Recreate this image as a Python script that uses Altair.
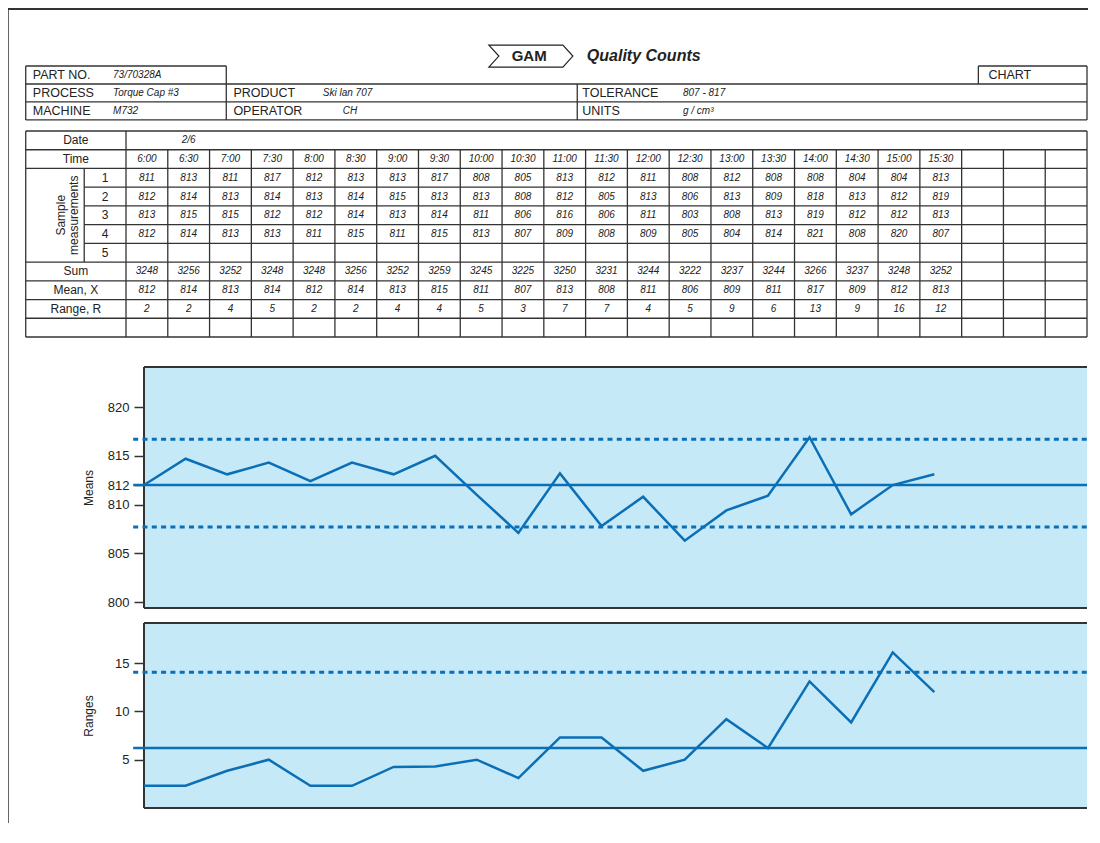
import altair as alt
import pandas as pd

# ---------------- data ----------------
times = ["6:00", "6:30", "7:00", "7:30", "8:00", "8:30", "9:00", "9:30", "10:00", "10:30",
         "11:00", "11:30", "12:00", "12:30", "13:00", "13:30", "14:00", "14:30", "15:00", "15:30"]
date_label = "2/6"
sample_1 = [811, 813, 811, 817, 812, 813, 813, 817, 808, 805, 813, 812, 811, 808, 812, 808, 808, 804, 804, 813]
sample_2 = [812, 814, 813, 814, 813, 814, 815, 813, 813, 808, 812, 805, 813, 806, 813, 809, 818, 813, 812, 819]
sample_3 = [813, 815, 815, 812, 812, 814, 813, 814, 811, 806, 816, 806, 811, 803, 808, 813, 819, 812, 812, 813]
sample_4 = [812, 814, 813, 813, 811, 815, 811, 815, 813, 807, 809, 808, 809, 805, 804, 814, 821, 808, 820, 807]
sums = [3248, 3256, 3252, 3248, 3248, 3256, 3252, 3259, 3245, 3225,
        3250, 3231, 3244, 3222, 3237, 3244, 3266, 3237, 3248, 3252]
mean_entries = [812, 814, 813, 814, 812, 814, 813, 815, 811, 807, 813, 808, 811, 806, 809, 811, 817, 809, 812, 813]
range_entries = [2, 2, 4, 5, 2, 2, 4, 4, 5, 3, 7, 7, 4, 5, 9, 6, 13, 9, 16, 12]

# values as plotted on the two control charts
means_plotted = [812, 814.7, 813.1, 814.3, 812.4, 814.3, 813.1, 815, 811, 807.1,
                 813.2, 807.8, 810.8, 806.3, 809.4, 810.9, 816.9, 809.0, 812, 813.1]
ranges_plotted = [2.3, 2.3, 3.85, 5.0, 2.3, 2.3, 4.25, 4.3, 5.0, 3.1,
                  7.3, 7.3, 3.85, 5.0, 9.2, 6.2, 13.1, 8.85, 16.1, 12.0]
mean_center, mean_ucl, mean_lcl = 812, 816.7, 807.7
range_center, range_ucl = 6.2, 14.05
mean_ticks = [800, 805, 810, 812, 815, 820]
range_ticks = [5, 10, 15]

header_left = [("PART NO.", "73/70328A"), ("PROCESS", "Torque Cap #3"), ("MACHINE", "M732")]
header_mid = [("PRODUCT", "Ski lan 707"), ("OPERATOR", "CH")]
header_right = [("TOLERANCE", "807 - 817"), ("UNITS", "g / cm³")]
row_labels = ["Date", "Time", "Sum", "Mean, X", "Range, R"]
sample_numbers = ["1", "2", "3", "4", "5"]

# ---------------- styles ----------------
INK = "#333333"
BLUE = "#0b6fb6"
FILL = "#c6e9f8"
SANS = "Liberation Sans"

# ---------------- scales ----------------
N_COLS, N_ROWS = 23, 11
LABEL_W, SUB_W = 2.4, 1.0
FX = alt.Scale(domain=[0, N_COLS], range=[118, 1079], zero=False, nice=False)
FY = alt.Scale(domain=[0, N_ROWS], range=[123, 329], zero=False, nice=False)
X_MAX = 22.67
MX = alt.Scale(domain=[0, X_MAX], range=[136, 1079], zero=False, nice=False)
MY = alt.Scale(domain=[799.4, 824.1], range=[600, 359], zero=False, nice=False)
RY = alt.Scale(domain=[0, 19.15], range=[800, 615], zero=False, nice=False)
LINE_START = -0.26


def hrules(rows, sx, sy, **mk):
    df = pd.DataFrame(rows, columns=["x", "x2", "y"])
    return alt.Chart(df).mark_rule(**mk).encode(
        x=alt.X("x:Q", scale=sx, axis=None), x2="x2:Q",
        y=alt.Y("y:Q", scale=sy, axis=None))


def vrules(rows, sx, sy, **mk):
    df = pd.DataFrame(rows, columns=["x", "y", "y2"])
    return alt.Chart(df).mark_rule(**mk).encode(
        x=alt.X("x:Q", scale=sx, axis=None),
        y=alt.Y("y:Q", scale=sy, axis=None), y2="y2:Q")


def texts(rows, sx, sy, **mk):
    df = pd.DataFrame(rows, columns=["x", "y", "t"])
    return alt.Chart(df).mark_text(**mk).encode(
        x=alt.X("x:Q", scale=sx, axis=None),
        y=alt.Y("y:Q", scale=sy, axis=None), text="t:N")


layers = []
L = -LABEL_W

# page frame
layers.append(hrules([(-2.83, 23.05, -6.51)], FX, FY, color=INK, strokeWidth=2))
layers.append(vrules([(-2.83, -6.51, 37)], FX, FY, color=INK, strokeWidth=2))

# ---------------- header ----------------
HY = [-3.47, -2.51, -1.55, -0.59]
HX = [L, 2.4, 10.8, 20.4, N_COLS]
h = [(HX[0], HX[1], HY[0]), (HX[3], HX[4], HY[0])]
h += [(HX[0], HX[4], y) for y in HY[1:]]
layers.append(hrules(h, FX, FY, color=INK, strokeWidth=1.3))
v = [(HX[0], HY[0], HY[3]), (HX[1], HY[0], HY[3]), (HX[2], HY[1], HY[3]),
     (HX[3], HY[0], HY[1]), (HX[4], HY[0], HY[3])]
layers.append(vrules(v, FX, FY, color=INK, strokeWidth=1.3))

hmid = [(HY[i] + HY[i + 1]) / 2 for i in range(3)]
lab = [(HX[0] + 0.17, hmid[i], k) for i, (k, _) in enumerate(header_left)]
lab += [(HX[1] + 0.17, hmid[i + 1], k) for i, (k, _) in enumerate(header_mid)]
lab += [(HX[2] + 0.12, hmid[i + 1], k) for i, (k, _) in enumerate(header_right)]
lab += [(HX[3] + 0.24, hmid[0], "CHART")]
layers.append(texts(lab, FX, FY, align="left", baseline="middle", font=SANS, fontSize=12.5, color="#222"))
val = [(-0.31, hmid[i], vv) for i, (_, vv) in enumerate(header_left)]
val += [(4.71, hmid[1], header_mid[0][1]), (5.19, hmid[2], header_mid[1][1])]
val += [(13.33, hmid[i + 1], vv) for i, (_, vv) in enumerate(header_right)]
layers.append(texts(val, FX, FY, align="left", baseline="middle", font=SANS, fontSize=10,
                    fontStyle="italic", color="#222"))

# title with arrow banner
ARROW = "M -1 -0.262 L 0.762 -0.262 L 1 0 L 0.762 0.262 L -1 0.262 L -0.762 0 Z"
layers.append(alt.Chart(pd.DataFrame({"x": [9.69], "y": [-4.0]})).mark_point(
    shape=ARROW, size=7056, filled=False, stroke="#222", strokeWidth=1.2, opacity=1).encode(
    x=alt.X("x:Q", scale=FX, axis=None), y=alt.Y("y:Q", scale=FY, axis=None)))
layers.append(texts([(9.65, -4.0, "GAM")], FX, FY, align="center", baseline="middle",
                    font=SANS, fontSize=15, fontWeight="bold", color="#222"))
layers.append(texts([(11.03, -4.0, "Quality Counts")], FX, FY, align="left", baseline="middle",
                    font=SANS, fontSize=16, fontWeight="bold", fontStyle="italic", color="#222"))

# ---------------- data table ----------------
h = [(L, N_COLS, r) for r in [0, 1, 2, 7, 8, 9, 10, 11]]
h += [(-SUB_W, N_COLS, r) for r in [3, 4, 5, 6]]
layers.append(hrules(h, FX, FY, color=INK, strokeWidth=1.3))
v = [(L, 0, N_ROWS), (0, 0, N_ROWS), (N_COLS, 0, N_ROWS), (-SUB_W, 2, 7)]
v += [(c, 1, N_ROWS) for c in range(1, N_COLS)]
layers.append(vrules(v, FX, FY, color=INK, strokeWidth=1.3))

label_rows = [0, 1, 7, 8, 9]
lab = [(L / 2, r + 0.5, t) for r, t in zip(label_rows, row_labels)]
lab += [(-SUB_W / 2, 2.5 + k, t) for k, t in enumerate(sample_numbers)]
layers.append(texts(lab, FX, FY, align="center", baseline="middle", font=SANS, fontSize=12, color="#222"))
layers.append(texts([(-1.55, 4.5, "Sample\nmeasurements")], FX, FY, align="center", baseline="middle",
                    angle=270, lineBreak="\n", lineHeight=13, font=SANS, fontSize=12, color="#222"))

entries = [(1.5, 0.5, date_label)]
entries += [(i + 0.5, 1.5, t) for i, t in enumerate(times)]
for k, arr in enumerate([sample_1, sample_2, sample_3, sample_4]):
    entries += [(i + 0.5, 2.5 + k, str(vv)) for i, vv in enumerate(arr)]
for r, arr in [(7, sums), (8, mean_entries), (9, range_entries)]:
    entries += [(i + 0.5, r + 0.5, str(vv)) for i, vv in enumerate(arr)]
layers.append(texts(entries, FX, FY, align="center", baseline="middle", font=SANS, fontSize=10,
                    fontStyle="italic", color="#222"))


# ---------------- control charts ----------------
def control_panel(values, sy, ylo, yhi, center, limits, ticks, title):
    out = []
    bg = pd.DataFrame({"x": [0], "x2": [X_MAX], "y": [ylo], "y2": [yhi]})
    out.append(alt.Chart(bg).mark_rect(fill=FILL).encode(
        x=alt.X("x:Q", scale=MX, axis=None), x2="x2:Q",
        y=alt.Y("y:Q", scale=sy, axis=None), y2="y2:Q"))
    out.append(hrules([(0, X_MAX, yhi), (0, X_MAX, ylo)], MX, sy, color=INK, strokeWidth=2))
    out.append(vrules([(0, ylo, yhi)], MX, sy, color=INK, strokeWidth=2))
    out.append(hrules([(LINE_START, X_MAX, center)], MX, sy, color=BLUE, strokeWidth=2.5))
    out.append(hrules([(LINE_START, X_MAX, lim) for lim in limits], MX, sy, color=BLUE,
                      strokeWidth=3, strokeDash=[5, 4.3]))
    df = pd.DataFrame({"i": list(range(len(values))), "v": values})
    out.append(alt.Chart(df).mark_line(color=BLUE, strokeWidth=2.5, strokeJoin="miter").encode(
        x=alt.X("i:Q", scale=MX, axis=None),
        y=alt.Y("v:Q", scale=sy, axis=alt.Axis(
            orient="left", offset=-136, values=ticks, domain=False, grid=False,
            tickSize=10, tickColor=INK, tickWidth=1.5,
            labelFont=SANS, labelFontSize=13, labelColor="#222", labelPadding=5,
            title=title, titleFont=SANS, titleFontSize=12, titleFontWeight="normal",
            titleColor="#222", titleX=-56, titleBaseline="middle"))))
    return out


layers += control_panel(means_plotted, MY, 799.4, 824.1, mean_center, [mean_ucl, mean_lcl],
                        mean_ticks, "Means")
layers += control_panel(ranges_plotted, RY, 0, 19.15, range_center, [range_ucl],
                        range_ticks, "Ranges")

chart = alt.layer(*layers).resolve_scale(x="independent", y="independent").properties(
    width=1080, height=815, autosize=alt.AutoSizeParams(type="none"), padding=0
).configure_view(stroke=None)

chart.save("out.html", embed_options={"renderer": "svg", "actions": False})
